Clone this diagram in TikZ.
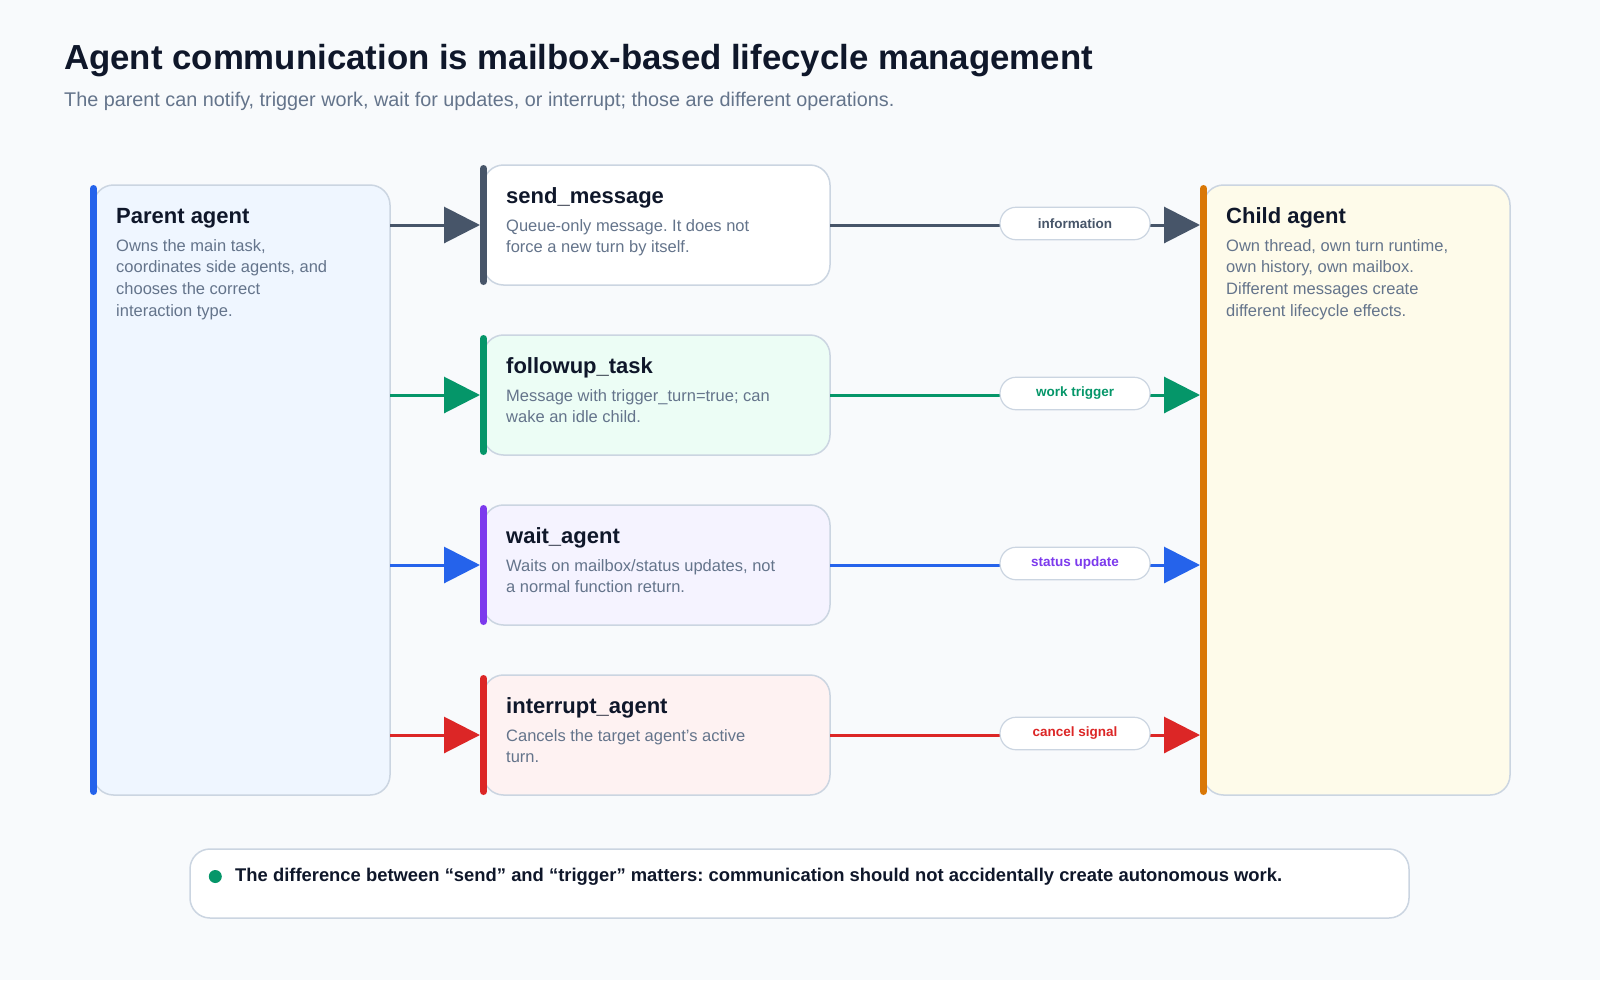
\documentclass[tikz,border=0pt]{standalone}
\usepackage{fontspec}
\setmainfont{Liberation Sans}
\frenchspacing
\usepackage{xcolor}
\usepackage{tikz}
\usetikzlibrary{positioning,arrows.meta}
\definecolor{pagebg}{HTML}{F8FAFC}
\definecolor{ink}{HTML}{0F172A}
\definecolor{muted}{HTML}{64748B}
\definecolor{cardline}{HTML}{CBD5E1}
\definecolor{slate}{HTML}{475569}
\definecolor{blueA}{HTML}{2563EB}
\definecolor{blueF}{HTML}{EFF6FF}
\definecolor{greenA}{HTML}{059669}
\definecolor{greenF}{HTML}{ECFDF5}
\definecolor{violetA}{HTML}{7C3AED}
\definecolor{violetF}{HTML}{F5F3FF}
\definecolor{redA}{HTML}{DC2626}
\definecolor{redF}{HTML}{FEF2F2}
\definecolor{amberA}{HTML}{D97706}
\definecolor{amberF}{HTML}{FEFBEA}
\tikzset{
  card/.style={draw=cardline,line width=1.5pt,rounded corners=20pt,inner sep=0pt,outer sep=0pt},
  opcard/.style={card,minimum width=346.5pt,minimum height=120pt},
  bar/.style={line width=7pt,draw=#1,line cap=round,shorten <=3.5pt,shorten >=3.5pt},
  head/.style={font=\fontsize{22}{26}\selectfont\bfseries,text=ink,inner sep=0pt,anchor=base west},
  body/.style={font=\fontsize{16.5}{21.7}\selectfont,text=muted,align=left,inner sep=0pt,anchor=north west},
  link/.style={line width=3pt,draw=#1,-{Triangle[length=36pt,width=36pt]},shorten >=3.5pt},
  pill/.style={draw=cardline,line width=1.2pt,fill=white,rounded corners=16pt,minimum width=150pt,
    minimum height=32.5pt,inner sep=0pt,yshift=1.5pt,font=\fontsize{13.5}{16}\selectfont\bfseries,text=#1},
}

\begin{document}
\begin{tikzpicture}[x=1pt,y=-1pt,node distance=50pt]
\path[fill=pagebg,use as bounding box] (0,0) rectangle (1600,980);

% title
\node[inner sep=0pt,anchor=base west,text=ink,font=\fontsize{34.8}{40}\selectfont\bfseries] (title) at (64,69.5)
  {Agent communication is mailbox-based lifecycle management};
\node[inner sep=0pt,anchor=base west,text=muted,font=\fontsize{19.8}{24}\selectfont] (subtitle) at (64,106.5)
  {The parent can notify, trigger work, wait for updates, or interrupt; those are different operations.};

% the two agents
\node[card,fill=blueF,anchor=north west,minimum width=296.5pt,minimum height=610pt] (parent) at (93.5,185) {};
\node[card,fill=amberF,anchor=north west,minimum width=306.5pt,minimum height=610pt] (child) at (1203.5,185) {};
\draw[bar=blueA] (parent.north west) -- (parent.south west);
\draw[bar=amberA] (child.north west) -- (child.south west);
\node[head] (parentT) at ([shift={(22.5,38)}]parent.north west) {Parent agent};
\node[body] (parentB) at ([shift={(22.5,54)}]parent.north west)
  {Owns the main task,\\coordinates side agents, and\\chooses the correct\\interaction type.};
\node[head] (childT) at ([shift={(22.5,38)}]child.north west) {Child agent};
\node[body] (childB) at ([shift={(22.5,54)}]child.north west)
  {Own thread, own turn runtime,\\own history, own mailbox.\\Different messages create\\different lifecycle effects.};

% operations
\node[opcard,fill=white,anchor=north west] (send) at (483.5,165) {};
\node[opcard,fill=greenF,below=of send] (followup) {};
\node[opcard,fill=violetF,below=of followup] (wait) {};
\node[opcard,fill=redF,below=of wait] (interrupt) {};
\draw[bar=slate] (send.north west) -- (send.south west);
\draw[bar=greenA] (followup.north west) -- (followup.south west);
\draw[bar=violetA] (wait.north west) -- (wait.south west);
\draw[bar=redA] (interrupt.north west) -- (interrupt.south west);

\node[head] (sendT) at ([shift={(22.5,38)}]send.north west) {send\_message};
\node[body] (sendB) at ([shift={(22.5,54)}]send.north west) {Queue-only message. It does not\\force a new turn by itself.};
\node[head] (followupT) at ([shift={(22.5,38)}]followup.north west) {followup\_task};
\node[body] (followupB) at ([shift={(22.5,54)}]followup.north west) {Message with trigger\_turn=true; can\\wake an idle child.};
\node[head] (waitT) at ([shift={(22.5,38)}]wait.north west) {wait\_agent};
\node[body] (waitB) at ([shift={(22.5,54)}]wait.north west) {Waits on mailbox/status updates, not\\a normal function return.};
\node[head] (interruptT) at ([shift={(22.5,38)}]interrupt.north west) {interrupt\_agent};
\node[body] (interruptB) at ([shift={(22.5,54)}]interrupt.north west) {Cancels the target agent’s active\\turn.};

% parent -> operation
\draw[link=slate] (parent.east |- send.west) -- (send.west);
\draw[link=greenA] (parent.east |- followup.west) -- (followup.west);
\draw[link=blueA] (parent.east |- wait.west) -- (wait.west);
\draw[link=redA] (parent.east |- interrupt.west) -- (interrupt.west);

% operation -> child
\draw[link=slate] (send.east) -- (child.west |- send.east) node[pill=slate,pos=0.656] (infoL) {information};
\draw[link=greenA] (followup.east) -- (child.west |- followup.east) node[pill=greenA,pos=0.656] (workL) {work trigger};
\draw[link=blueA] (wait.east) -- (child.west |- wait.east) node[pill=violetA,pos=0.656] (statusL) {status update};
\draw[link=redA] (interrupt.east) -- (child.west |- interrupt.east) node[pill=redA,pos=0.656] (cancelL) {cancel signal};

% takeaway
\node[card,fill=white,anchor=north west,minimum width=1219pt,minimum height=69pt] (note) at (190,849) {};
\node[circle,fill=greenA,inner sep=0pt,minimum size=13pt] (noteDot) at ([shift={(25.3,27.5)}]note.north west) {};
\node[inner sep=0pt,anchor=west,text=ink,font=\fontsize{18.4}{22}\selectfont\bfseries] (noteT) at ([xshift=13pt]noteDot.east)
  {The difference between “send” and “trigger” matters: communication should not accidentally create autonomous work.};
\end{tikzpicture}
\end{document}
